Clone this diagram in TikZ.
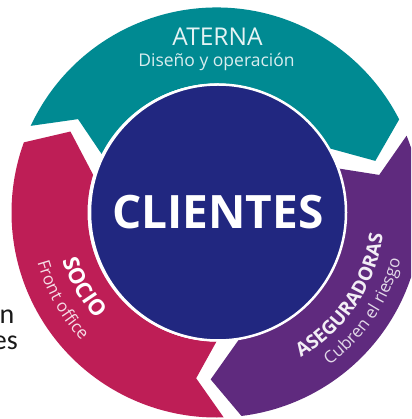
\documentclass[tikz,border=0pt]{standalone}
\usepackage{fontspec}
\setmainfont{Open Sans}
\newfontfamily\calib{Carlito}
\usetikzlibrary{decorations.text}
\definecolor{cteal}{HTML}{008A92}
\definecolor{ccrim}{HTML}{BE1E56}
\definecolor{cpurp}{HTML}{5F2A7E}
\definecolor{cnavy}{HTML}{212780}
\tikzset{
  curvtext/.style={decorate, decoration={text along path, text align=center, text color=#1}},
}
\begin{document}
\begin{tikzpicture}[x=1pt,y=1pt]
\useasboundingbox (-216.5,-206.5) rectangle (194.5,212.5);
\clip (-216.5,-206.5) rectangle (194.5,212.5);
% crimson segment
\fill[ccrim] (272:205pt) arc[start angle=272,end angle=160,radius=205pt] -- (151:167pt) -- (163:129pt)
  arc[start angle=163,end angle=270,radius=129pt] -- (263:167pt) -- cycle;
% teal segment
\fill[cteal] (155:205pt) arc[start angle=155,end angle=27,radius=205pt] -- (18:167pt) -- (30:129pt)
  arc[start angle=30,end angle=153,radius=129pt] -- (146:167pt) -- cycle;
% purple segment
\fill[cpurp] (22:205pt) arc[start angle=22,end angle=-83,radius=205pt] -- (-92:167pt) -- (-80:129pt)
  arc[start angle=-80,end angle=20,radius=129pt] -- (13:167pt) -- cycle;
% centre
\node[circle, minimum size=256pt, inner sep=0pt, fill=cnavy, draw=white, line width=2.5pt,
  text=white, font=\bfseries\fontsize{46}{46}\selectfont] (cl) at (1.5,0) {CLIENTES};
% top labels
\node[anchor=base, text=white!90!cteal, font=\fontsize{24.5}{24.5}\selectfont] (at) at (1,167.2) {ATERNA};
\node[anchor=base, text=white!85!cteal, font=\fontsize{17.5}{17.5}\selectfont] (ds) at (0,145.8) {Diseño y operación};
% curved labels
\path[curvtext=white, decoration={text={|\bfseries\fontsize{22}{22}\selectfont|SOCIO}}]
  (179.4:161pt) arc[start angle=179.4, end angle=239.4, radius=161pt];
\path[curvtext=white!85!ccrim, decoration={text={|\fontsize{17}{17}\selectfont|Front office}}]
  (174:186pt) arc[start angle=174, end angle=245, radius=186pt];
\path[curvtext=white!92!cpurp, decoration={text={|\bfseries\fontsize{19}{19}\selectfont|ASEGURADORAS}}]
  (286.3:168pt) arc[start angle=286.3, end angle=366.3, radius=168pt];
\path[curvtext=white!82!cpurp, decoration={text={|\fontsize{17}{17}\selectfont|Cubren el riesgo}}]
  (286:190pt) arc[start angle=286, end angle=366, radius=190pt];
% fragments of text at left
\node[anchor=base west, inner sep=0pt, text=black!90, font=\calib\fontsize{28}{28}\selectfont] (fn) at (-217,-110.5) {n};
\node[anchor=base east, inner sep=0pt, text=black!90, font=\calib\fontsize{28}{28}\selectfont] (fe) at (-198.5,-137) {es};
\end{tikzpicture}
\end{document}
